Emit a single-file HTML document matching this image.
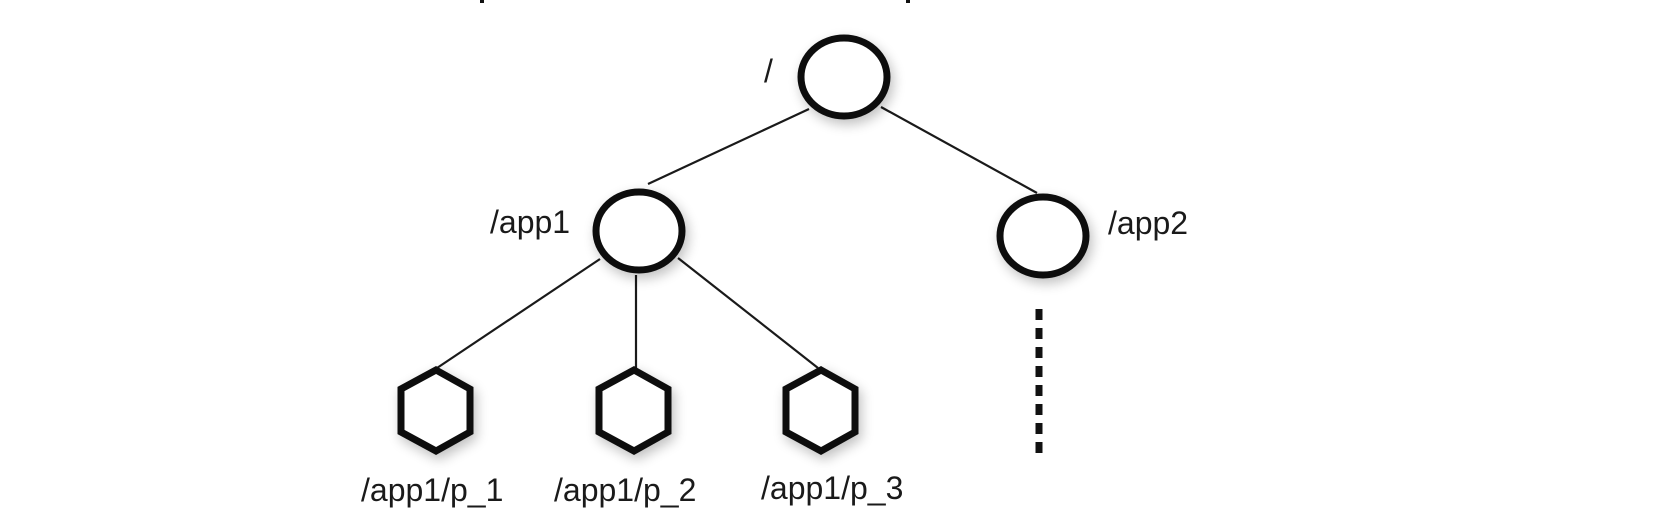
<!DOCTYPE html>
<html><head><meta charset="utf-8"><style>
html,body{margin:0;padding:0;background:#fff;}
svg{display:block;}
text{font-family:"Liberation Sans",sans-serif;font-size:32px;fill:#1a1a1a;}
</style></head><body>
<svg width="1680" height="532" viewBox="0 0 1680 532" xmlns="http://www.w3.org/2000/svg">
<defs>
<filter id="sh" x="-50%" y="-50%" width="200%" height="200%">
<feGaussianBlur in="SourceAlpha" stdDeviation="6"/>
<feOffset dx="3" dy="5" result="b"/>
<feComponentTransfer><feFuncA type="linear" slope="0.25"/></feComponentTransfer>
<feMerge><feMergeNode/><feMergeNode in="SourceGraphic"/></feMerge>
</filter>
</defs>
<rect x="480" y="0" width="4" height="3" fill="#111"/>
<rect x="906" y="0" width="4" height="3" fill="#111"/>
<g stroke="#1a1a1a" stroke-width="2.2" fill="none">
<line x1="809" y1="109" x2="648" y2="184"/>
<line x1="881" y1="107" x2="1037" y2="193"/>
<line x1="600" y1="259" x2="437" y2="368"/>
<line x1="636" y1="275" x2="636" y2="368"/>
<line x1="678" y1="258" x2="818" y2="368"/>
</g>
<line x1="1039" y1="309" x2="1039" y2="458" stroke="#111" stroke-width="7" stroke-dasharray="11,8"/>
<g stroke="#111" stroke-width="7" fill="#fff" filter="url(#sh)">
<ellipse cx="844" cy="77" rx="43" ry="39"/>
<ellipse cx="639" cy="231" rx="43" ry="39"/>
<ellipse cx="1043" cy="236" rx="43" ry="39"/>
<polygon points="436,370 470,389 470,432 436,451 401,432 401,389"/>
<polygon points="634,370 668,389 668,432 634,451 599,432 599,389"/>
<polygon points="821,370 855,389 855,432 821,451 786,432 786,389"/>
</g>
<text x="764" y="82">/</text>
<text x="490" y="233">/app1</text>
<text x="1108" y="234">/app2</text>
<text x="361" y="501">/app1/p_1</text>
<text x="554" y="501">/app1/p_2</text>
<text x="761" y="499">/app1/p_3</text>
</svg>
</body></html>
